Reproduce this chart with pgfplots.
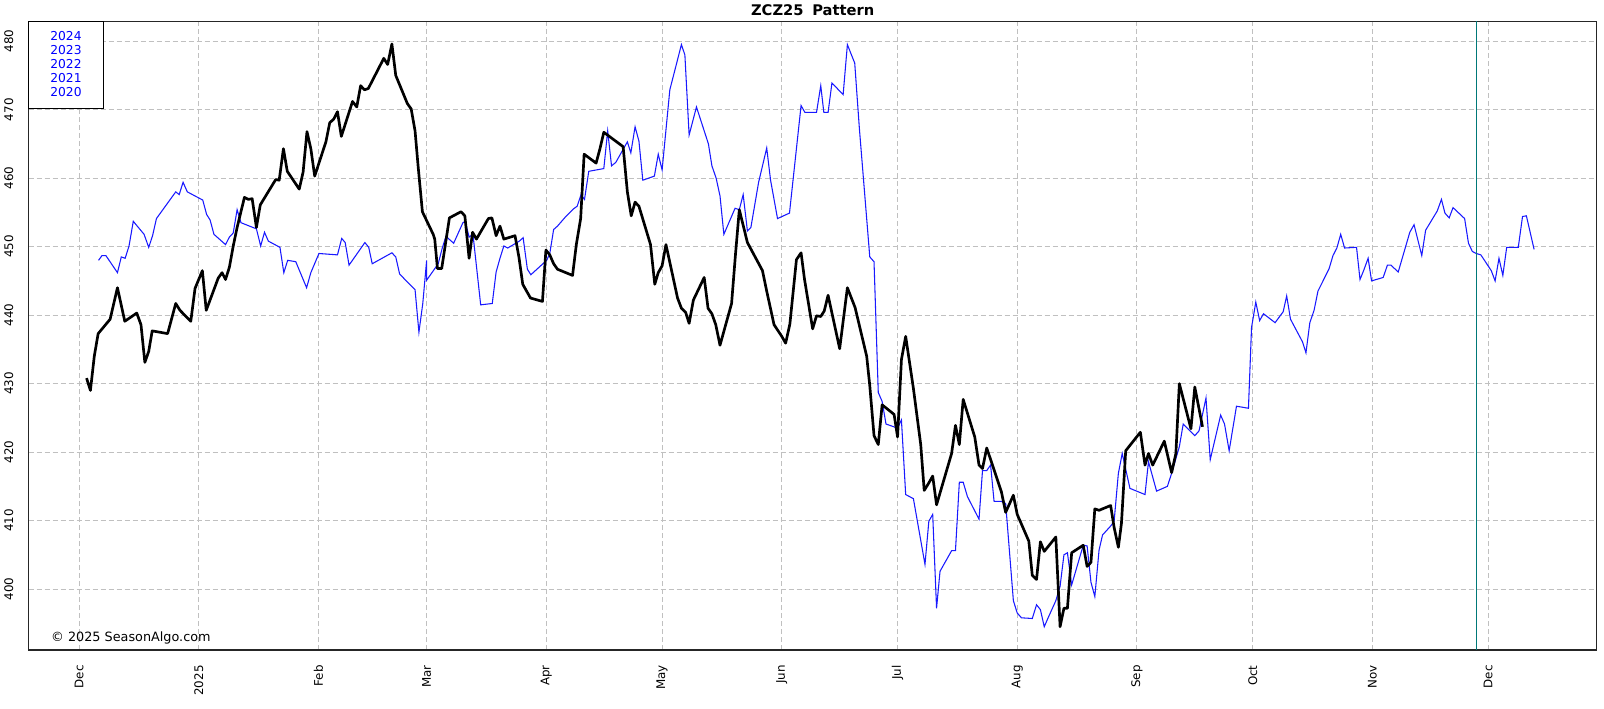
\documentclass[border=0pt]{standalone}
\usepackage{fontspec}
\setmainfont{DejaVu Sans}
\usepackage{pgfplots}
\pgfplotsset{compat=1.18}
\definecolor{patblue}{RGB}{25,25,255}
\definecolor{tealline}{RGB}{0,120,120}
\definecolor{gridgray}{RGB}{192,192,192}
\begin{document}
\begin{tikzpicture}
\useasboundingbox (-21.5pt,-43.5pt) rectangle (1181.5pt,487.5pt);
\begin{axis}[
  at={(0,0)}, anchor=south west,
  scale only axis, width=1176pt, height=471.5pt,
  xmin=-13.1, xmax=393.1, ymin=391.1, ymax=482.9,
  xtick={0,31,62,90,121,151,182,212,243,274,304,335,365},
  xticklabels={Dec,2025,Feb,Mar,Apr,May,Jun,Jul,Aug,Sep,Oct,Nov,Dec},
  ytick={400,410,420,430,440,450,460,470,480},
  grid=major,
  major grid style={gridgray, dash pattern=on 3.75pt off 2.25pt, line width=0.75pt},
  major tick length=0pt,
  axis line style={line width=1.1pt, black!85},
  tick label style={font=\fontsize{8.9}{10}\selectfont, black},
  xticklabel style={rotate=90, anchor=east},
  yticklabel style={rotate=90, anchor=south},
  xticklabel shift=8pt, yticklabel shift=8pt,
  /pgf/number format/assume math mode=true,
  axis on top=false,
]
\addplot[patblue, line width=0.8pt] coordinates {
(5.0,448.0) (5.9,448.7) (6.9,448.7) (9.9,446.2) (10.9,448.5) (11.9,448.3) (12.9,450.1) (14.0,453.7)
(16.8,451.8) (18.0,449.9) (19.0,451.6) (20.0,454.1) (25.0,458.0) (25.9,457.6) (26.9,459.4) (28.0,458.0)
(32.0,456.8) (33.0,454.7) (33.9,453.9) (34.9,451.8) (37.9,450.3) (38.9,451.4) (39.9,452.0) (40.9,455.4)
(41.9,453.5) (45.9,452.6) (47.0,450.1) (48.0,452.1) (49.0,450.8) (52.0,449.9) (53.0,446.2) (54.0,448.0)
(56.1,447.8) (58.9,444.0) (60.0,446.2) (62.1,449.0) (66.9,448.8) (68.0,451.2) (68.9,450.6) (69.9,447.3)
(74.0,450.6) (75.0,449.9) (75.9,447.5) (81.0,449.1) (82.0,448.5) (83.0,446.0) (87.0,443.7) (88.0,437.5)
(89.0,441.7) (90.0,448.0) (90.0,445.1) (93.0,447.5) (94.0,449.7) (95.0,451.5) (97.0,450.5) (99.4,453.5)
(100.0,453.7) (101.0,451.4) (102.0,451.8) (104.0,441.5) (107.0,441.7) (108.0,446.3) (109.0,448.3) (110.0,450.1)
(111.0,449.8) (114.0,450.8) (115.0,451.3) (116.1,446.7) (117.0,445.9) (121.1,448.0) (121.9,449.0) (122.9,452.5)
(123.9,453.0) (125.9,454.3) (128.0,455.5) (129.0,455.9) (130.0,457.6) (130.9,456.9) (132.0,461.0) (135.9,461.4)
(136.9,466.9) (137.9,461.8) (139.0,462.3) (142.0,465.3) (142.9,463.7) (144.0,467.5) (145.0,465.4) (146.0,459.7)
(149.0,460.3) (150.0,463.5) (151.0,461.2) (153.0,472.9) (156.0,479.5) (156.9,478.0) (158.0,466.3) (159.9,470.4)
(163.0,465.0) (163.9,461.8) (165.0,460.0) (166.0,457.4) (167.0,451.8) (169.9,455.6) (171.0,455.4) (172.0,457.6)
(173.1,452.3) (174.0,452.8) (176.0,459.4) (178.1,464.4) (179.1,459.7) (180.9,454.1) (184.0,454.9) (187.0,470.6)
(188.0,469.6) (191.0,469.6) (192.1,473.5) (192.9,469.6) (194.0,469.6) (195.0,473.9) (197.9,472.2) (199.0,479.5)
(200.9,476.8) (202.1,467.3) (204.8,448.5) (205.9,447.8) (207.0,428.7) (208.0,427.4) (209.0,424.1) (212.0,423.5)
(213.0,424.7) (214.1,413.8) (216.1,413.2) (219.1,403.6) (220.1,409.9) (221.1,410.9) (222.1,397.2) (223.0,402.6)
(226.0,405.6) (227.0,405.6) (228.0,415.6) (229.0,415.6) (230.1,413.5) (233.1,410.2) (234.0,417.3) (235.1,417.3)
(236.1,418.1) (237.0,412.8) (238.9,412.8) (240.0,412.5) (242.0,398.3) (243.0,396.5) (244.1,395.8) (246.9,395.7)
(248.0,397.7) (249.0,397.0) (250.0,394.5) (251.0,395.8) (253.0,398.3) (254.1,400.4) (255.1,405.0) (256.0,405.3)
(257.1,400.6) (260.1,406.4) (261.1,406.3) (262.1,401.0) (263.1,398.9) (264.2,405.7) (265.1,407.9) (267.2,409.2)
(268.1,409.9) (269.2,416.9) (270.2,419.8) (272.2,414.7) (276.1,413.8) (277.0,418.6) (279.1,414.3) (281.9,415.0)
(283.0,416.9) (285.0,420.8) (286.0,424.1) (289.0,422.4) (290.1,423.1) (291.9,427.9) (293.0,418.9) (295.7,425.4)
(296.7,424.1) (297.9,420.2) (299.8,426.7) (302.9,426.4) (303.7,438.2) (304.8,441.9) (305.8,439.2) (306.8,440.2)
(309.8,438.9) (311.9,440.5) (312.8,442.8) (313.8,439.4) (316.9,436.1) (317.8,434.5) (318.8,438.9) (319.9,440.7)
(320.9,443.5) (323.8,446.8) (324.8,448.7) (325.8,449.8) (326.8,451.8) (327.8,449.8) (330.9,449.9) (331.8,445.2)
(332.8,446.6) (333.9,448.3) (334.8,445.0) (337.8,445.5) (338.9,447.3) (339.8,447.3) (341.7,446.3) (344.7,452.1)
(345.8,453.2) (347.8,448.7) (348.8,452.4) (351.8,455.2) (352.9,456.9) (353.8,454.9) (354.9,454.2) (355.9,455.7)
(358.9,454.1) (359.9,450.5) (360.9,449.3) (361.9,449.0) (363.1,448.8) (365.8,446.5) (366.8,445.0) (367.8,448.3)
(368.8,445.8) (369.8,449.9) (372.8,449.9) (373.9,454.4) (374.9,454.5) (376.9,449.6)
};
\addplot[black, line width=2pt, line join=round] coordinates {
(1.9,430.8) (2.9,429.0) (3.9,434.0) (4.9,437.3) (8.0,439.4) (9.9,444.0) (11.8,439.1) (14.9,440.3)
(16.0,438.6) (17.0,433.1) (18.0,434.7) (18.9,437.7) (22.9,437.3) (25.0,441.7) (26.1,440.7) (28.9,439.1)
(30.0,443.9) (31.9,446.5) (32.9,440.7) (36.0,445.4) (37.0,446.2) (37.9,445.2) (38.9,447.0) (39.9,450.1)
(40.9,452.8) (42.8,457.2) (43.8,456.9) (44.8,457.0) (45.9,452.8) (46.9,456.1) (50.9,459.8) (51.8,459.7)
(52.9,464.3) (53.9,461.0) (57.0,458.4) (58.0,460.9) (59.0,466.8) (60.0,464.3) (61.0,460.3) (63.9,465.3)
(64.9,468.1) (65.9,468.6) (66.9,469.7) (67.9,466.1) (70.8,471.2) (71.9,470.4) (72.9,473.5) (73.9,472.9)
(74.9,473.1) (78.9,477.5) (79.9,476.6) (81.0,479.6) (82.0,475.0) (85.0,470.9) (86.0,470.1) (87.0,466.9)
(87.8,461.7) (88.9,455.1) (91.7,451.8) (92.1,451.1) (92.8,446.8) (93.9,446.8) (95.9,454.2) (98.9,455.1)
(99.9,454.5) (101.0,448.3) (101.9,452.1) (102.9,451.1) (106.0,454.1) (106.9,454.2) (108.0,451.6) (109.0,453.0)
(110.0,451.1) (112.9,451.6) (113.9,448.5) (114.9,444.5) (115.9,443.5) (116.9,442.5) (120.0,442.0) (120.9,449.5)
(121.9,448.8) (122.9,447.5) (123.9,446.7) (127.8,445.8) (128.8,450.4) (129.9,454.1) (130.8,463.5) (133.9,462.2)
(134.9,464.3) (135.9,466.7) (140.9,464.6) (142.0,458.0) (143.0,454.5) (144.0,456.5) (145.0,455.9) (148.0,450.3)
(149.1,444.5) (150.0,446.2) (151.0,447.2) (152.0,450.3) (155.0,442.5) (156.0,441.0) (157.1,440.4) (158.0,438.8)
(159.1,442.2) (161.9,445.5) (162.9,441.0) (163.9,440.2) (164.9,438.6) (166.0,435.6) (169.0,441.7) (170.0,448.8)
(171.0,455.4) (173.1,450.6) (177.0,446.5) (178.1,443.5) (180.0,438.6) (182.0,436.9) (183.0,435.9) (184.1,438.7)
(185.8,448.1) (187.0,449.1) (187.9,445.2) (190.0,438.0) (191.0,439.9) (192.1,439.8) (193.0,440.6) (194.0,442.9)
(197.0,435.1) (199.0,444.0) (201.0,441.1) (204.0,434.0) (204.8,429.7) (205.9,422.4) (207.0,421.1) (208.0,426.9)
(211.1,425.5) (212.0,422.2) (213.0,433.5) (214.1,436.9) (216.1,429.3) (218.0,421.1) (218.9,414.4) (220.1,415.5)
(221.1,416.5) (222.1,412.3) (226.0,419.8) (227.0,423.9) (228.0,421.1) (229.0,427.7) (232.0,422.2) (233.1,418.1)
(234.0,417.6) (235.1,420.6) (238.9,414.2) (240.0,411.2) (242.0,413.7) (243.0,410.9) (246.0,407.0) (246.9,402.0)
(248.0,401.4) (249.0,406.9) (250.0,405.5) (253.0,407.6) (254.1,394.5) (255.1,397.2) (256.0,397.2) (257.1,405.3)
(260.1,406.4) (261.1,403.3) (262.1,403.9) (263.1,411.7) (264.2,411.5) (267.2,412.2) (268.1,409.0) (269.2,406.1)
(270.0,409.6) (271.1,420.2) (274.9,422.9) (276.1,418.1) (277.0,419.8) (278.1,418.1) (281.1,421.6) (283.0,417.0)
(284.1,419.8) (285.0,430.0) (288.0,423.4) (289.0,429.5) (291.0,423.7)
};
\addplot[tealline, line width=0.8pt] coordinates {(361.9,391.1) (361.9,482.9)};
\end{axis}
% legend box
\draw[black, line width=0.8pt, fill=white] (0pt,406.25pt) rectangle (55.95pt,471.5pt);
\begin{scope}[every node/.style={anchor=base, inner sep=0pt, text=blue, font=\fontsize{9.2}{10}\selectfont}]
\node at (28pt,456.95pt) {2024};
\node at (28pt,446.45pt) {2023};
\node at (28pt,435.95pt) {2022};
\node at (28pt,425.45pt) {2021};
\node at (28pt,414.95pt) {2020};
\end{scope}
\node[anchor=base west, inner sep=0pt, font=\fontsize{9.6}{11}\selectfont] at (16.7pt,6.75pt) {© 2025 SeasonAlgo.com};
\node[anchor=base, inner sep=0pt, font=\fontsize{11}{13}\selectfont\bfseries] at (588pt,475.9pt) {ZCZ25\hspace{0.6em}Pattern};
\end{tikzpicture}
\end{document}
